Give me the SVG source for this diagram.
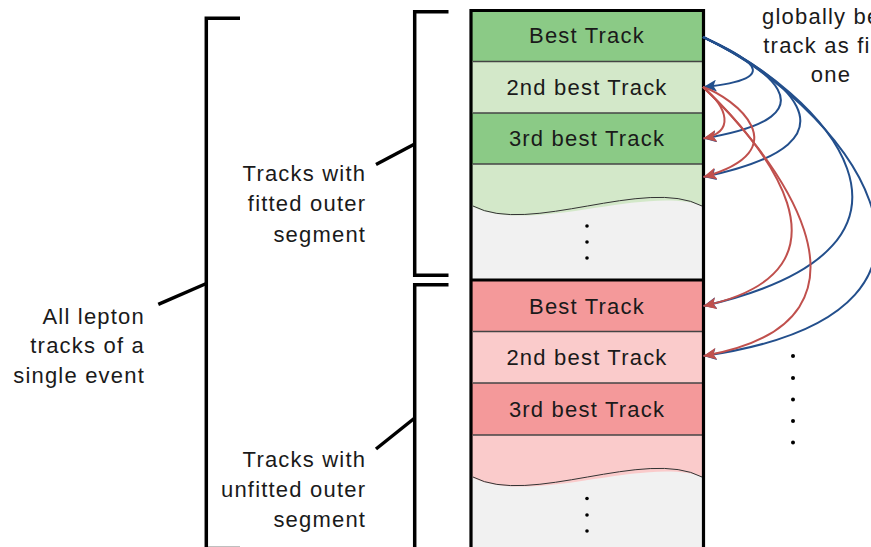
<svg xmlns="http://www.w3.org/2000/svg" width="871" height="547" viewBox="0 0 871 547">
<style>
.t{font-family:"Liberation Sans",Arial,sans-serif;font-size:22px;letter-spacing:1.2px;fill:#1a1a1a}
.c{text-anchor:middle}
.e{text-anchor:end}
.br{fill:none;stroke:#000;stroke-width:3.5}
.sep{stroke:#444;stroke-width:1.3}
.wave{fill:none;stroke:#333;stroke-width:1}
.blue{fill:none;stroke:#234f8c;stroke-width:2;marker-end:url(#ab)}
.red{fill:none;stroke:#c0504d;stroke-width:2;marker-end:url(#ar)}
.dot{fill:#000}
</style>
<defs>
<marker id="ab" markerUnits="userSpaceOnUse" markerWidth="14" markerHeight="12" refX="13" refY="6" orient="auto">
<path d="M0,0 L13,6 L0,12 L3,6 z" fill="#234f8c"/>
</marker>
<marker id="ar" markerUnits="userSpaceOnUse" markerWidth="14" markerHeight="12" refX="13" refY="6" orient="auto">
<path d="M0,0 L13,6 L0,12 L3,6 z" fill="#c0504d"/>
</marker>
</defs>
<rect width="871" height="547" fill="#fff"/>

<g id="fitted-group">
<rect x="471" y="10.5" width="232.5" height="270" fill="#f1f1f1"/>
<rect x="471" y="10.5" width="232.5" height="51" fill="#8bca86"/>
<rect x="471" y="61.5" width="232.5" height="51.5" fill="#d3e8c9"/>
<rect x="471" y="113" width="232.5" height="51" fill="#8bca86"/>
<path d="M471,164 H703.5 V206 C645,184 530,236 471,206 Z" fill="#d3e8c9"/>
<path class="wave" d="M473,206 C530,236 645,176 702,206"/>
<line class="sep" x1="473" y1="61.5" x2="702" y2="61.5"/>
<line class="sep" x1="473" y1="113" x2="702" y2="113"/>
<line class="sep" x1="473" y1="164" x2="702" y2="164"/>
<circle class="dot" cx="587" cy="226" r="1.8"/>
<circle class="dot" cx="587" cy="242" r="1.8"/>
<circle class="dot" cx="587" cy="258" r="1.8"/>
</g>

<g id="unfitted-group">
<rect x="471" y="280" width="232.5" height="270" fill="#f1f1f1"/>
<rect x="471" y="280" width="232.5" height="51.5" fill="#f4999a"/>
<rect x="471" y="331.5" width="232.5" height="51.5" fill="#facbcb"/>
<rect x="471" y="383" width="232.5" height="52" fill="#f4999a"/>
<path d="M471,435 H703.5 V477 C645,455 530,507 471,477 Z" fill="#facbcb"/>
<path class="wave" d="M473,477 C530,507 645,447 702,477"/>
<line class="sep" x1="473" y1="331.5" x2="702" y2="331.5"/>
<line class="sep" x1="473" y1="383" x2="702" y2="383"/>
<line class="sep" x1="473" y1="435" x2="702" y2="435"/>
<circle class="dot" cx="587" cy="498.5" r="1.8"/>
<circle class="dot" cx="587" cy="515" r="1.8"/>
<circle class="dot" cx="587" cy="531" r="1.8"/>
</g>

<g id="column-frame">
<path d="M471,550 V10.5 H703.5 V550" fill="none" stroke="#000" stroke-width="3.2"/>
<line x1="471" y1="280" x2="703.5" y2="280" stroke="#000" stroke-width="3"/>
</g>

<g id="row-labels">
<text class="t c" x="587" y="43">Best Track</text>
<text class="t c" x="587" y="94.5">2nd best Track</text>
<text class="t c" x="587" y="146">3rd best Track</text>
<text class="t c" x="587" y="314">Best Track</text>
<text class="t c" x="587" y="364.5">2nd best Track</text>
<text class="t c" x="587" y="416.5">3rd best Track</text>
</g>

<g id="bracket-fitted">
<path class="br" d="M448.5,11.7 H414.7 V275.3 H448.5"/>
<line x1="376" y1="164.5" x2="414.7" y2="144" stroke="#000" stroke-width="3.5"/>
<text class="t e" x="366.2" y="180.5">Tracks with</text>
<text class="t e" x="366.2" y="211">fitted outer</text>
<text class="t e" x="366.2" y="241.5">segment</text>
</g>

<g id="bracket-unfitted">
<path class="br" d="M448.5,284.7 H414.7 V560"/>
<line x1="376" y1="449" x2="414.7" y2="418" stroke="#000" stroke-width="3.5"/>
<text class="t e" x="366.2" y="466.5">Tracks with</text>
<text class="t e" x="366.2" y="496.5">unfitted outer</text>
<text class="t e" x="366.2" y="526.5">segment</text>
</g>

<g id="bracket-all">
<path class="br" d="M240,18.3 H206.3 V548.5 H240"/>
<line x1="158.3" y1="304.3" x2="206.3" y2="283.5" stroke="#000" stroke-width="3.5"/>
<text class="t e" x="145" y="323.5">All lepton</text>
<text class="t e" x="145" y="353">tracks of a</text>
<text class="t e" x="145" y="382.5">single event</text>
</g>

<g id="note">
<text class="t c" x="831" y="23.5">globally best</text>
<text class="t c" x="831" y="52.5">track as first</text>
<text class="t c" x="831" y="82">one</text>
</g>

<g id="more-dots">
<circle class="dot" cx="793" cy="356" r="2"/>
<circle class="dot" cx="793" cy="378" r="2"/>
<circle class="dot" cx="793" cy="399.5" r="2"/>
<circle class="dot" cx="793" cy="421" r="2"/>
<circle class="dot" cx="793" cy="442.5" r="2"/>
</g>

<g id="connectors">
<path class="blue" d="M703,37 C745,57 790,78 703.5,87"/>
<path class="blue" d="M703,37 C760,65 845,115 703.5,138.5"/>
<path class="blue" d="M703,37 C775,72 880,140 703.5,177"/>
<path class="blue" d="M703,37 C820,90 970,245 703.5,306"/>
<path class="blue" d="M703,37 C830,95 1020,310 703.5,356"/>
<path class="red" d="M703,87 C728,108 735,132 703.5,138.5"/>
<path class="red" d="M703,87 C735,98 800,150 703.5,177"/>
<path class="red" d="M703,87 C760,140 870,270 703.5,306"/>
<path class="red" d="M703,87 C765,145 910,320 703.5,356"/>
</g>
</svg>
